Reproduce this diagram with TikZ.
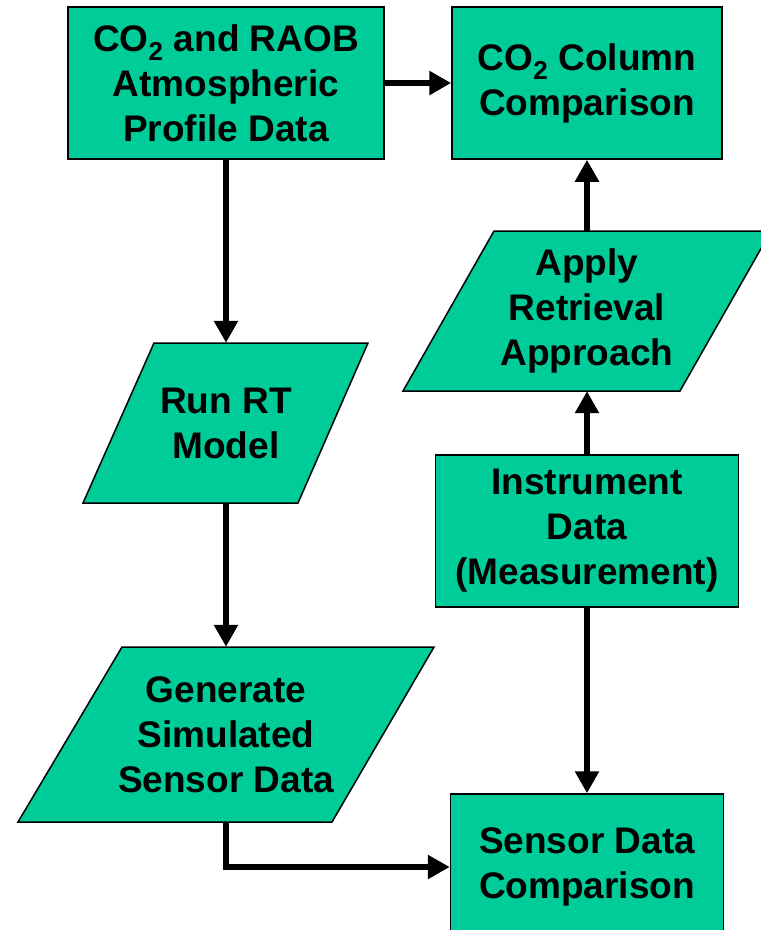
\documentclass[tikz,border=0pt]{standalone}
\usepackage{fontspec}
\setmainfont{Liberation Sans}
\usetikzlibrary{arrows.meta,positioning}
\definecolor{flowgreen}{RGB}{0,204,153}

\begin{document}
\begin{tikzpicture}[x=1pt,y=-1pt,
  every node/.style={font=\fontsize{37}{45}\selectfont\bfseries, align=center, inner sep=0pt},
  box/.style={draw, line width=1.5pt, fill=flowgreen},
  link/.style={line width=6pt, -{Triangle[length=22pt,width=23pt]}}]
  \useasboundingbox (0,0) rectangle (761,930);

  % slanted steps
  \draw [box] (83,503) -- (154,343) -- (368,343) -- (298,503) -- cycle;
  \draw [box] (18,822) -- (122,647) -- (434,647) -- (332,822) -- cycle;
  \draw [box] (403,391) -- (494,231) -- (771,231) -- (680,391) -- cycle;

  % left column
  \node [box, minimum width=316pt, minimum height=152pt] (prof) at (226,83)
    {CO\textsubscript{2} and RAOB\\Atmospheric\\Profile Data};
  \node [minimum height=160pt] (run) at (226,423) {Run RT\\ Model};
  \node [minimum height=175pt] (gen) at (226,734.5)
    {Generate\\Simulated\\Sensor Data};

  % right column
  \node [box, minimum width=270pt, minimum height=152pt] (col) at (587,83)
    {CO\textsubscript{2} Column\\Comparison};
  \node [minimum height=160pt] (apply) at (587,311)
    {Apply\\Retrieval\\Approach};
  \node [box, minimum width=303pt, minimum height=152pt] (instr) at (587,531)
    {Instrument\\Data\\(Measurement)};
  \node [box, minimum width=273pt, minimum height=146pt] (sens) at (587,867)
    {Sensor Data\\Comparison};

  \draw [link] (prof) -- (col);
  \draw [link] (prof) -- (run);
  \draw [link] (run) -- (gen);
  \draw [link] (gen.south) |- (sens.west);
  \draw [link] (instr) -- (apply);
  \draw [link] (apply) -- (col);
  \draw [link] (instr) -- (sens);
\end{tikzpicture}
\end{document}
